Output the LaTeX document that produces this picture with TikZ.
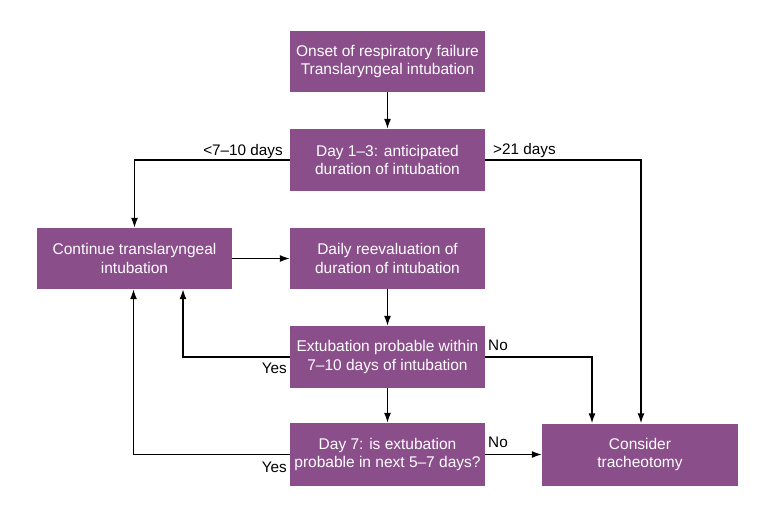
\documentclass[tikz,border=0pt]{standalone}
\usepackage{fontspec}
\setmainfont{Liberation Sans}
\usetikzlibrary{arrows.meta}
\definecolor{boxpurple}{RGB}{138,78,139}
\begin{document}
\begin{tikzpicture}[x=1pt,y=-1pt,
  box/.style={draw=none,fill=boxpurple,text=white,align=center,inner sep=0pt,
    minimum width=195pt,minimum height=62pt,font=\fontsize{15.5}{18.5}\selectfont},
  arr/.style={line width=1.4pt,-{Latex[length=10pt,width=7pt]}},
  lab/.style={inner sep=0pt,font=\fontsize{15.3}{18}\selectfont}]
\useasboundingbox[fill=white] (0,0) rectangle (776,517);
\node[box,minimum height=61pt] (b1) at (387.5,61.5) {Onset of respiratory failure\\Translaryngeal intubation};
\node[box] (b2) at (387.5,160) {Day 1--3: anticipated\\duration of intubation};
\node[box,minimum height=61pt] (cont) at (134.5,258.5) {Continue translaryngeal\\intubation};
\node[box,minimum height=61pt] (daily) at (387.5,258.5) {Daily reevaluation of\\duration of intubation};
\node[box] (ext) at (387.5,357) {Extubation probable within\\7--10 days of intubation};
\node[box,minimum height=63pt] (d7) at (387.5,454.5) {Day 7: is extubation\\probable in next 5--7 days?};
\node[box,minimum width=196pt] (cons) at (640,454.5) {Consider\\tracheotomy};

\draw[arr] (b1) -- (b2);
\draw[arr] (b2.west) -| (cont.north);
\draw[arr] (b2.east) -| ([xshift=1pt]cons.north);
\draw[arr] (cont) -- (daily);
\draw[arr] (daily) -- (ext);
\draw[arr] (ext) -- (d7);
\draw[arr] (ext.west) -| ([xshift=48.5pt]cont.south);
\draw[arr] (ext.east) -| ([xshift=-48pt]cons.north);
\draw[arr] (d7.west) -| ([xshift=-1pt]cont.south);
\draw[arr] (d7) -- (cons);

\node[lab,anchor=base east] (l1) at (283,155) {<7--10 days};
\node[lab,anchor=base west] (l2) at (493,154) {>21 days};
\node[lab,anchor=base west] (l3) at (488,350) {No};
\node[lab,anchor=base west] (l4) at (488,447) {No};
\node[lab,anchor=base east] (l5) at (287,373) {Yes};
\node[lab,anchor=base east] (l6) at (287,472) {Yes};
\end{tikzpicture}
\end{document}
